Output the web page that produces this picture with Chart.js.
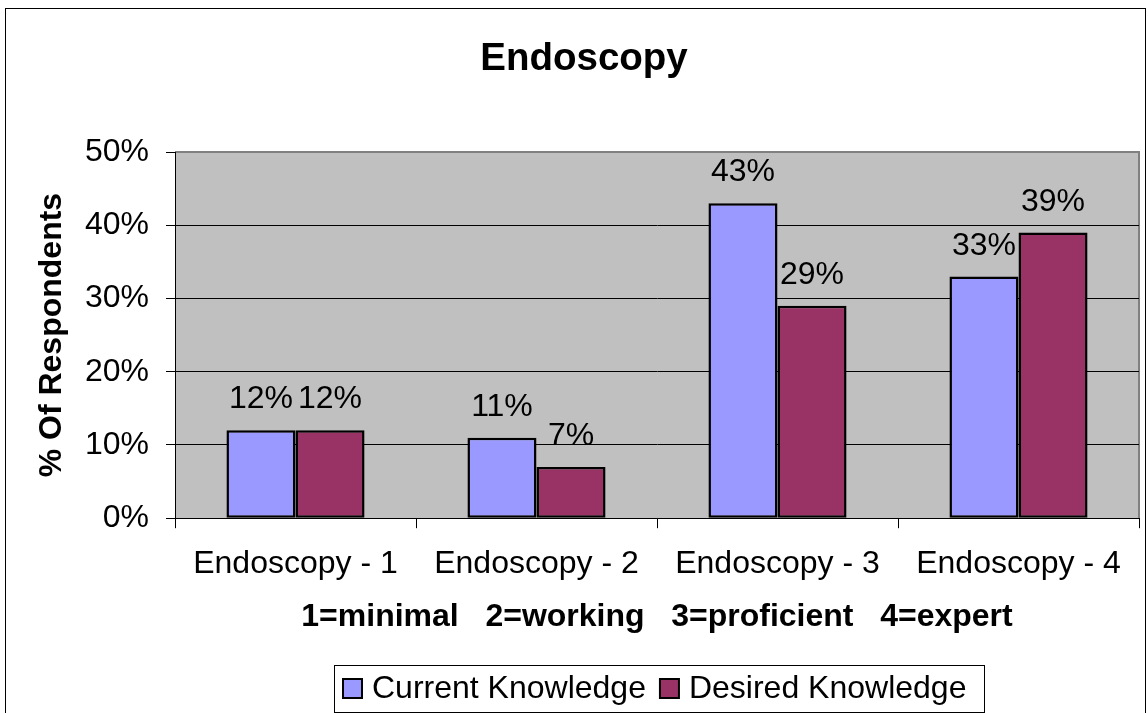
<!DOCTYPE html>
<html>
<head>
<meta charset="utf-8">
<script src="https://cdn.jsdelivr.net/npm/chart.js@4/dist/chart.umd.min.js"></script>
<style>
  html, body { margin: 0; padding: 0; background: #fff; }
  #wrap { width: 1148px; height: 713px; }
</style>
</head>
<body>
<div id="wrap"><canvas id="chart" width="1148" height="713"></canvas></div>
<script>
const categories = ["Endoscopy - 1", "Endoscopy - 2", "Endoscopy - 3", "Endoscopy - 4"];
const currentKnowledge = [12, 11, 43, 33];
const desiredKnowledge = [12, 7, 29, 39];
const yMin = 0;
const yMax = 50;
const yStep = 10;
const chartTitle = "Endoscopy";

const FONT = "Arial, 'Liberation Sans', sans-serif";

// white page, outer frame, title, grey plot background with grey top/right border
const backdrop = {
  id: "backdrop",
  beforeDraw(chart) {
    const { ctx, chartArea: a } = chart;
    ctx.save();
    ctx.fillStyle = "#fff";
    ctx.fillRect(0, 0, chart.width, chart.height);
    ctx.strokeStyle = "#000";
    ctx.lineWidth = 1;
    ctx.strokeRect(5.5, 8.5, chart.width - 8, chart.height + 20);

    ctx.fillStyle = "#000";
    ctx.font = "bold 38.5px " + FONT;
    ctx.textAlign = "center";
    ctx.textBaseline = "alphabetic";
    ctx.fillText(chartTitle, chart.width / 2 + 10, 70);

    ctx.fillStyle = "#C0C0C0";
    ctx.fillRect(a.left, a.top, a.right - a.left, a.bottom - a.top);
    ctx.strokeStyle = "#808080";
    ctx.lineWidth = 2;
    ctx.beginPath();
    ctx.moveTo(a.left, a.top);
    ctx.lineTo(a.right, a.top);
    ctx.lineTo(a.right, a.bottom);
    ctx.stroke();
    ctx.restore();
  }
};

// percent labels above each bar
const barLabels = {
  id: "barLabels",
  afterDatasetsDraw(chart) {
    const ctx = chart.ctx;
    ctx.save();
    ctx.font = "32px " + FONT;
    ctx.fillStyle = "#000";
    ctx.textAlign = "center";
    ctx.textBaseline = "alphabetic";
    chart.data.datasets.forEach((ds, i) => {
      chart.getDatasetMeta(i).data.forEach((bar, j) => {
        ctx.fillText(ds.data[j] + "%", bar.x, bar.y - 22);
      });
    });
    ctx.restore();
  }
};

// boxed legend under the axis title, centred on the plot
const boxLegend = {
  id: "boxLegend",
  afterDraw(chart) {
    const ctx = chart.ctx;
    const a = chart.chartArea;
    const sw = 19, gap = 10, between = 14, padL = 9, padR = 18;
    ctx.save();
    ctx.font = "32px " + FONT;
    const items = chart.data.datasets.map(ds => ({
      text: ds.label, color: ds.backgroundColor, w: ctx.measureText(ds.label).width
    }));
    let total = padL + padR;
    items.forEach((it, i) => { total += sw + gap + it.w + (i ? between : 0); });
    total = Math.round(total);
    const left = Math.round((a.left + a.right) / 2 - total / 2) + 2;
    const top = chart.height - 48, h = 47;
    const mid = top + h / 2;
    ctx.fillStyle = "#fff";
    ctx.fillRect(left, top, total, h);
    ctx.strokeStyle = "#000";
    ctx.lineWidth = 1;
    ctx.strokeRect(left + 0.5, top + 0.5, total, h);
    let x = left + padL;
    ctx.textBaseline = "middle";
    ctx.textAlign = "left";
    items.forEach((it, i) => {
      if (i) x += between;
      ctx.fillStyle = it.color;
      ctx.fillRect(x, mid - sw / 2, sw, sw);
      ctx.lineWidth = 2;
      ctx.strokeRect(x, mid - sw / 2, sw, sw);
      x += sw + gap;
      ctx.fillStyle = "#000";
      ctx.fillText(it.text, x, mid + 1);
      x += it.w;
    });
    ctx.restore();
  }
};

new Chart(document.getElementById("chart"), {
  type: "bar",
  data: {
    labels: categories,
    datasets: [
      {
        label: "Current Knowledge",
        data: currentKnowledge,
        backgroundColor: "#9999FF",
        borderColor: "#000",
        borderWidth: 2.5,
        borderSkipped: false
      },
      {
        label: "Desired Knowledge",
        data: desiredKnowledge,
        backgroundColor: "#993366",
        borderColor: "#000",
        borderWidth: 2.5,
        borderSkipped: false
      }
    ]
  },
  options: {
    responsive: false,
    animation: false,
    devicePixelRatio: 1,
    layout: { padding: { left: 0, right: 9, top: 152, bottom: 77 } },
    datasets: { bar: { categoryPercentage: 0.573, barPercentage: 1.0 } },
    plugins: {
      title: { display: false },
      legend: { display: false },
      tooltip: { enabled: false }
    },
    scales: {
      x: {
        grid: {
          drawOnChartArea: false,
          drawTicks: true,
          tickLength: 10,
          color: "#000",
          offset: true
        },
        border: { color: "#000", width: 1 },
        ticks: {
          color: "#000",
          font: { family: FONT, size: 32 },
          padding: 17,
          maxRotation: 0,
          autoSkip: false
        },
        title: {
          display: true,
          text: "1=minimal   2=working   3=proficient   4=expert",
          color: "#000",
          font: { family: FONT, size: 32, weight: "bold" },
          padding: { top: -3, bottom: 0 }
        }
      },
      y: {
        min: yMin,
        max: yMax,
        afterFit(scale) { scale.width = 175; },
        grid: {
          color: ctx => (ctx.tick && ctx.tick.value === yMax ? "#808080" : "#000"),
          tickColor: "#000",
          tickLength: 9,
          lineWidth: 1
        },
        border: { color: "#000", width: 1 },
        ticks: {
          stepSize: yStep,
          color: "#000",
          font: { family: FONT, size: 32 },
          padding: 17,
          callback: v => v + "%"
        },
        title: {
          display: true,
          text: "% Of Respondents",
          color: "#000",
          font: { family: FONT, size: 32, weight: "bold" },
          padding: { top: 33, bottom: 0 }
        }
      }
    }
  },
  plugins: [backdrop, barLabels, boxLegend]
});
</script>
</body>
</html>
